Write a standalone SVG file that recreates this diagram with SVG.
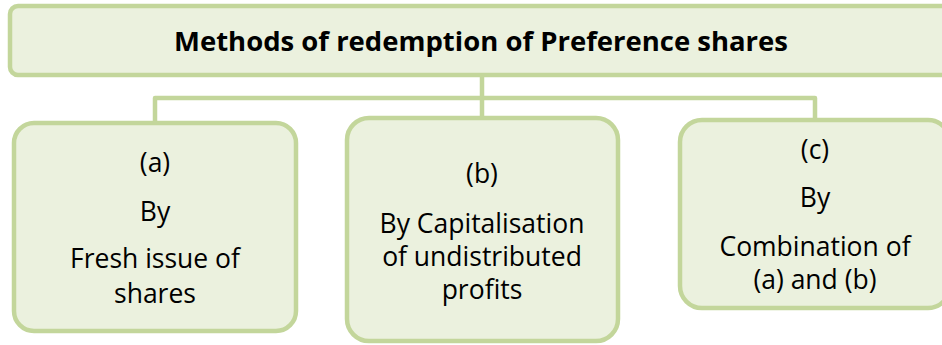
<svg xmlns="http://www.w3.org/2000/svg" width="942" height="345" viewBox="0 0 942 345">
<style>
.box{fill:#ebf1de;stroke:#c3d69b;stroke-width:4.5}
.conn{fill:none;stroke:#c3d69b;stroke-width:4.5;stroke-linejoin:round}
text{font-family:"Open Sans","Noto Sans","DejaVu Sans",sans-serif;fill:#000;text-anchor:middle}
.t{font-size:26.5px}
.title{font-size:27px;font-weight:bold}
</style>
<rect width="942" height="345" fill="#ffffff"/>
<g id="connectors">
<path class="conn" d="M482 75 V98"/>
<path class="conn" d="M155 123 V98 H815 V120"/>
<path class="conn" d="M482 98 V118"/>
</g>
<g id="node-root">
<rect class="box" x="10" y="6" width="942" height="69" rx="8"/>
<text class="title" x="481" y="51" textLength="614" lengthAdjust="spacingAndGlyphs">Methods of redemption of Preference shares</text>
</g>
<g id="node-a">
<rect class="box" x="14" y="123" width="282" height="208" rx="20"/>
<text class="t" x="155" y="172">(a)</text>
<text class="t" x="155" y="221">By</text>
<text class="t" x="155" y="268">Fresh issue of</text>
<text class="t" x="155" y="303">shares</text>
</g>
<g id="node-b">
<rect class="box" x="347" y="118" width="271" height="223" rx="22"/>
<text class="t" x="482" y="183">(b)</text>
<text class="t" x="482" y="233">By Capitalisation</text>
<text class="t" x="482" y="266">of undistributed</text>
<text class="t" x="482" y="299">profits</text>
</g>
<g id="node-c">
<rect class="box" x="680" y="120" width="270" height="188" rx="22"/>
<text class="t" x="815" y="159">(c)</text>
<text class="t" x="815" y="207">By</text>
<text class="t" x="815" y="256">Combination of</text>
<text class="t" x="815" y="289">(a) and (b)</text>
</g>
</svg>
